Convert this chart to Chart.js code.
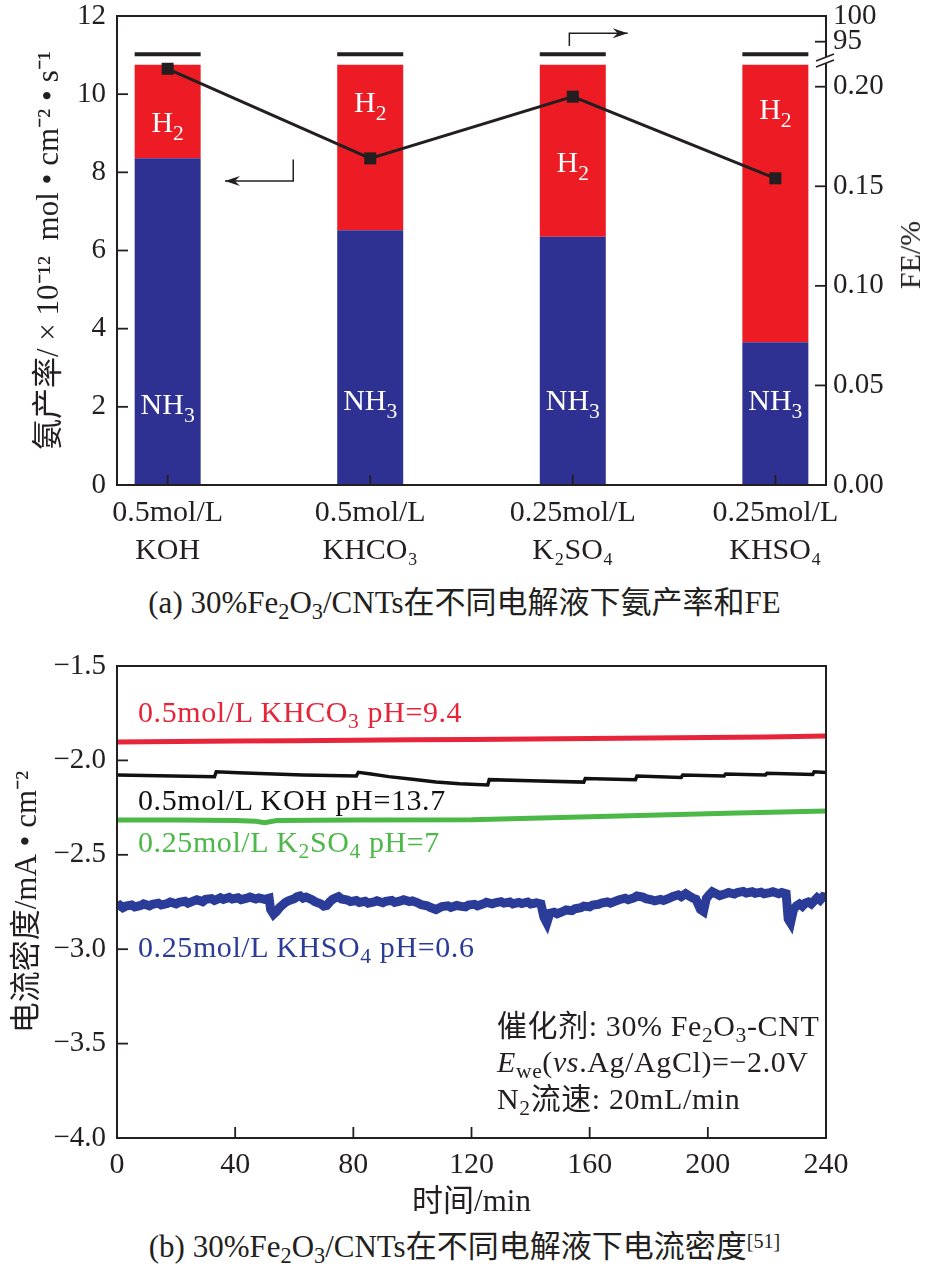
<!DOCTYPE html>
<html><head><meta charset="utf-8">
<script src="https://cdn.jsdelivr.net/npm/chart.js@4.4.1/dist/chart.umd.min.js"></script>
<style>
body{margin:0;background:#fff;width:929px;height:1275px;overflow:hidden;position:relative;font-family:'Liberation Serif','Noto Sans CJK SC',serif;color:#231f20}
#c1{position:absolute;left:0;top:0}
#c2{position:absolute;left:0;top:630px}
.t{position:absolute;white-space:nowrap;font-size:30px;letter-spacing:0.6px;line-height:1}
.cap{position:absolute;left:0;width:929px;text-align:center;white-space:nowrap;font-size:31px;line-height:1}
sub{font-size:0.72em;vertical-align:-0.28em;line-height:0}
sup{font-size:0.65em;vertical-align:0.45em;line-height:0}
#fe{position:absolute;left:910px;top:255px;transform:translate(-50%,-50%) rotate(-90deg);font-size:30px;line-height:1;white-space:nowrap}
</style></head>
<body>
<canvas id="c1" width="929" height="580"></canvas>
<canvas id="c2" width="929" height="590"></canvas>
<div id="fe">FE/%</div>
<div class="cap" style="top:587px">(a) 30%Fe<sub>2</sub>O<sub>3</sub>/CNTs在不同电解液下氨产率和FE</div>
<div class="t" style="left:138px;top:697px;color:#e6243a">0.5mol/L KHCO<sub>3</sub> pH=9.4</div>
<div class="t" style="left:138px;top:785px;color:#111">0.5mol/L KOH pH=13.7</div>
<div class="t" style="left:138px;top:827px;color:#4cb847">0.25mol/L K<sub>2</sub>SO<sub>4</sub> pH=7</div>
<div class="t" style="left:138px;top:932px;color:#2b3c98">0.25mol/L KHSO<sub>4</sub> pH=0.6</div>
<div class="t" style="left:497px;top:1011px">催化剂: 30% Fe<sub>2</sub>O<sub>3</sub>-CNT</div>
<div class="t" style="left:497px;top:1047px"><i>E</i><sub>we</sub>(<i>vs</i>.Ag/AgCl)=−2.0V</div>
<div class="t" style="left:497px;top:1084px">N<sub>2</sub>流速: 20mL/min</div>
<div class="cap" style="top:1231px">(b) 30%Fe<sub>2</sub>O<sub>3</sub>/CNTs在不同电解液下电流密度<sup>[51]</sup></div>
<script>
// ---------- data (a) ----------
const categories = [['0.5mol/L','KOH'],['0.5mol/L','KHCO₃'],['0.25mol/L','K₂SO₄'],['0.25mol/L','KHSO₄']];
const nh3Rate = [8.36, 6.52, 6.35, 3.65];
const h2Rate  = [2.39, 4.23, 4.40, 7.10];
const capRange = [10.97, 11.07];
const feValues = [0.209, 0.164, 0.195, 0.154];
const rateTicks = [0, 2, 4, 6, 8, 10, 12];
const feTickValues = [0, 0.05, 0.10, 0.15, 0.20, 0.2226, 0.2355];
const feTickLabels = ['0.00', '0.05', '0.10', '0.15', '0.20', '95', '100'];

// ---------- data (b) ----------
const timeTicks = [0, 40, 80, 120, 160, 200, 240];
const currentTicks = [-4.0, -3.5, -3.0, -2.5, -2.0, -1.5];
const khco3Time = [0, 20, 40, 60, 80, 100, 120, 140, 160, 180, 200, 220, 240];
const khco3Current = [-1.902, -1.900, -1.897, -1.896, -1.893, -1.891, -1.889, -1.887, -1.884, -1.882, -1.879, -1.876, -1.871];
const kohTime = [0, 33, 33.6, 41, 63, 81, 81.7, 86, 92, 100, 108, 116, 125.5, 126, 140, 158, 158.5, 175.5, 176, 191, 191.5, 205.5, 206, 219.5, 220, 235.5, 236, 240];
const kohCurrent = [-2.077, -2.087, -2.060, -2.066, -2.077, -2.083, -2.063, -2.072, -2.086, -2.100, -2.114, -2.124, -2.130, -2.102, -2.108, -2.115, -2.096, -2.102, -2.083, -2.090, -2.077, -2.083, -2.072, -2.077, -2.068, -2.075, -2.060, -2.064];
const k2so4Time = [0, 20, 40, 47, 50, 54, 80, 120, 150, 180, 210, 240];
const k2so4Current = [-2.316, -2.316, -2.318, -2.322, -2.330, -2.318, -2.316, -2.314, -2.302, -2.290, -2.279, -2.268];
const khso4Time = [0,1,2,3,5,6,8,9,11,12,14,15,17,18,20,21,23,24,26,27,29,30,32,33,35,36,38,39,41,42,44,45,47,48,50,51.5,52,53,54,55,56,57,58,60,61,62,63,64,66,67,69,70,71,72,73,74,75,76,78,79,81,82,84,85,87,88,90,91,93,94,96,97,99,100,102,103,105,106,108,109,110,112,113,115,116,118,119,121,122,124,125,127,128,130,131,133,134,136,137,139,140,142,143.5,144.5,145.5,146.5,148,149,151,152,154,155,157,158,160,161,163,164,166,167,169,170,172,173,175,176,178,179,181,182,184,185,187,188,190,191,192.5,193.5,195,196,197.5,198.5,199.5,200.5,201.5,203,204,206,207,209,210,212,213,215,216,218,219,221,222,224,225,226.5,227.2,228,229,230,231,232,233,234,235,236,237,238,239,240];
const khso4Current = [-2.776,-2.768,-2.780,-2.772,-2.766,-2.776,-2.768,-2.760,-2.770,-2.762,-2.756,-2.766,-2.758,-2.750,-2.760,-2.752,-2.746,-2.756,-2.744,-2.738,-2.748,-2.736,-2.732,-2.742,-2.728,-2.736,-2.726,-2.734,-2.728,-2.738,-2.730,-2.724,-2.734,-2.728,-2.736,-2.730,-2.790,-2.815,-2.800,-2.780,-2.766,-2.752,-2.744,-2.732,-2.722,-2.718,-2.730,-2.724,-2.738,-2.748,-2.760,-2.772,-2.768,-2.750,-2.736,-2.728,-2.722,-2.734,-2.740,-2.748,-2.742,-2.752,-2.746,-2.756,-2.750,-2.744,-2.754,-2.746,-2.742,-2.752,-2.744,-2.738,-2.748,-2.744,-2.756,-2.764,-2.770,-2.778,-2.790,-2.782,-2.774,-2.770,-2.778,-2.768,-2.772,-2.776,-2.766,-2.762,-2.770,-2.760,-2.752,-2.760,-2.754,-2.748,-2.756,-2.750,-2.760,-2.752,-2.758,-2.750,-2.760,-2.754,-2.760,-2.830,-2.860,-2.810,-2.804,-2.812,-2.800,-2.792,-2.796,-2.786,-2.780,-2.772,-2.776,-2.766,-2.762,-2.756,-2.750,-2.756,-2.744,-2.738,-2.730,-2.738,-2.728,-2.718,-2.724,-2.732,-2.738,-2.744,-2.736,-2.742,-2.730,-2.722,-2.712,-2.722,-2.706,-2.716,-2.730,-2.736,-2.790,-2.800,-2.730,-2.712,-2.696,-2.708,-2.716,-2.706,-2.700,-2.708,-2.700,-2.694,-2.702,-2.696,-2.704,-2.698,-2.706,-2.700,-2.696,-2.706,-2.700,-2.706,-2.840,-2.860,-2.790,-2.770,-2.760,-2.772,-2.756,-2.750,-2.760,-2.744,-2.728,-2.740,-2.722,-2.726];

const F = "'Liberation Serif','Noto Sans CJK SC',serif";
const INK = '#231f20';
const pts = (xs, ys) => xs.map((x, i) => ({x: x, y: ys[i]}));

function drawSub(ctx, parts, cx, cy, size) {
  ctx.save();
  ctx.textAlign = 'left';
  ctx.textBaseline = 'alphabetic';
  const w = parts.map(p => { ctx.font = (p[1] ? size * 0.72 : size) + 'px ' + F; return ctx.measureText(p[0]).width; });
  let x = cx - w.reduce((a, b) => a + b, 0) / 2;
  const base = cy + size * 0.33;
  parts.forEach((p, i) => {
    ctx.font = (p[1] ? size * 0.72 : size) + 'px ' + F;
    ctx.fillText(p[0], x, p[1] ? base + size * 0.27 : base);
    x += w[i];
  });
  ctx.restore();
}

const framePlugin = {
  id: 'frame',
  afterDatasetsDraw(chart, args, opts) {
    const {ctx, chartArea: a} = chart;
    ctx.save();
    ctx.strokeStyle = INK;
    ctx.lineWidth = 2;
    ctx.strokeRect(a.left, a.top, a.right - a.left, a.bottom - a.top);
    ctx.lineWidth = 1.8;
    (opts.ticks || []).forEach(t => {
      const s = chart.scales[t.scale];
      t.values.forEach(v => {
        const p = s.getPixelForValue(v);
        ctx.beginPath();
        if (t.side === 'bottom') { ctx.moveTo(p, a.bottom); ctx.lineTo(p, a.bottom - t.len); }
        else if (t.side === 'left') { ctx.moveTo(a.left, p); ctx.lineTo(a.left + t.len, p); }
        else { ctx.moveTo(a.right, p); ctx.lineTo(a.right - t.len, p); }
        ctx.stroke();
      });
    });
    (opts.labels || []).forEach(l => {
      ctx.fillStyle = '#ffffff';
      drawSub(ctx, l.parts, chart.scales.x.getPixelForValue(l.x), chart.scales.y.getPixelForValue(l.y), 30);
    });
    (opts.arrows || []).forEach(ar => {
      const P = ar.map(q => [chart.scales.x.getPixelForValue(q[0]), chart.scales.y.getPixelForValue(q[1])]);
      ctx.strokeStyle = INK; ctx.lineWidth = 1.5;
      ctx.beginPath(); ctx.moveTo(P[0][0], P[0][1]);
      for (let i = 1; i < P.length; i++) ctx.lineTo(P[i][0], P[i][1]);
      ctx.stroke();
      const e = P[P.length - 1], s = P[P.length - 2];
      const ang = Math.atan2(e[1] - s[1], e[0] - s[0]);
      ctx.fillStyle = INK;
      ctx.beginPath();
      ctx.moveTo(e[0], e[1]);
      ctx.lineTo(e[0] - 15 * Math.cos(ang) + 5 * Math.sin(ang), e[1] - 15 * Math.sin(ang) - 5 * Math.cos(ang));
      ctx.lineTo(e[0] - 10 * Math.cos(ang), e[1] - 10 * Math.sin(ang));
      ctx.lineTo(e[0] - 15 * Math.cos(ang) - 5 * Math.sin(ang), e[1] - 15 * Math.sin(ang) + 5 * Math.cos(ang));
      ctx.closePath(); ctx.fill();
    });
    if (opts.breakAt !== undefined) {
      const py = chart.scales.y1.getPixelForValue(opts.breakAt);
      ctx.strokeStyle = '#ffffff'; ctx.lineWidth = 5;
      ctx.beginPath(); ctx.moveTo(a.right, py - 3); ctx.lineTo(a.right, py + 3); ctx.stroke();
      ctx.strokeStyle = INK; ctx.lineWidth = 1.6;
      [-3, 3].forEach(d => {
        ctx.beginPath(); ctx.moveTo(a.right - 10, py + d + 4); ctx.lineTo(a.right + 8, py + d - 3); ctx.stroke();
      });
    }
    ctx.restore();
  }
};

const tickFont = {family: F, size: 29, lineHeight: 0.3};

// ---------- chart (a) ----------
new Chart(document.getElementById('c1'), {
  type: 'bar',
  data: {
    datasets: [
      {label: 'NH3', data: pts([0,1,2,3], nh3Rate), backgroundColor: '#2e3192', stack: 'main', grouped: false, maxBarThickness: 66, order: 1, yAxisID: 'y'},
      {label: 'H2', data: pts([0,1,2,3], h2Rate), backgroundColor: '#ed1c24', stack: 'main', grouped: false, maxBarThickness: 66, order: 2, yAxisID: 'y'},
      {label: 'cap', data: [0,1,2,3].map(i => ({x: i, y: capRange})), backgroundColor: INK, stack: 'cap', grouped: false, maxBarThickness: 66, order: 3, yAxisID: 'y'},
      {type: 'line', label: 'FE', data: pts([0,1,2,3], feValues), yAxisID: 'y1', borderColor: INK, borderWidth: 3, pointStyle: 'rect', pointRadius: 8.5, pointBackgroundColor: INK, pointBorderColor: INK, pointBorderWidth: 0, order: 0}
    ]
  },
  options: {
    responsive: false, animation: false, events: [],
    layout: {padding: {top: 16, left: 0, right: 0, bottom: 0}},
    plugins: {legend: {display: false}, tooltip: {enabled: false},
      frame: {
        ticks: [{scale: 'x', side: 'bottom', len: 10, values: [0,1,2,3]},
                {scale: 'y', side: 'left', len: 11, values: [2,4,6,8,10]},
                {scale: 'y1', side: 'right', len: 11, values: [0.05,0.10,0.15,0.20,0.2226]}],
        labels: [{x:0, y:9.28, parts:[['H',0],['2',1]]}, {x:1, y:9.80, parts:[['H',0],['2',1]]},
                 {x:2, y:8.26, parts:[['H',0],['2',1]]}, {x:3, y:9.62, parts:[['H',0],['2',1]]},
                 {x:0, y:2.07, parts:[['NH',0],['3',1]]}, {x:1, y:2.17, parts:[['NH',0],['3',1]]},
                 {x:2, y:2.17, parts:[['NH',0],['3',1]]}, {x:3, y:2.17, parts:[['NH',0],['3',1]]}],
        arrows: [[[0.620, 8.33], [0.620, 7.78], [0.283, 7.78]], [[1.983, 11.23], [1.983, 11.56], [2.271, 11.56]]],
        breakAt: 0.2134
      }
    },
    scales: {
      x: {type: 'linear', min: -0.25, max: 3.25, offset: false,
        grid: {display: false, drawTicks: false}, border: {display: false},
        afterBuildTicks: s => { s.ticks = categories.map((c, i) => ({value: i})); },
        ticks: {callback: v => categories[v], font: {family: F, size: 30, lineHeight: 1.28}, color: INK, padding: 9, maxRotation: 0, autoSkip: false},
        afterFit: s => { s.height = 95; }
      },
      y: {position: 'left', stacked: true, min: 0, max: 12,
        grid: {display: false, drawTicks: false}, border: {display: false},
        afterBuildTicks: s => { s.ticks = rateTicks.map(v => ({value: v})); },
        ticks: {font: tickFont, color: INK, padding: 11},
        title: {display: true, text: '氨产率/ × 10⁻¹²  mol • cm⁻² • s⁻¹', font: {family: F, size: 31, lineHeight: 1.2}, color: INK, padding: {top: 31, bottom: 0}},
        afterFit: s => { s.width = 117; }
      },
      y1: {position: 'right', min: 0, max: 0.2355,
        grid: {display: false, drawTicks: false}, border: {display: false},
        afterBuildTicks: s => { s.ticks = feTickValues.map(v => ({value: v})); },
        ticks: {callback: (v, i) => feTickLabels[i], font: tickFont, color: INK, padding: 7, autoSkip: false},
        afterFit: s => { s.width = 103; }
      }
    }
  },
  plugins: [framePlugin]
});

// ---------- chart (b) ----------
new Chart(document.getElementById('c2'), {
  type: 'line',
  data: {
    datasets: [
      {label: 'KHCO3', data: pts(khco3Time, khco3Current), borderColor: '#e6243a', borderWidth: 5},
      {label: 'KOH', data: pts(kohTime, kohCurrent), borderColor: '#111111', borderWidth: 3.5},
      {label: 'K2SO4', data: pts(k2so4Time, k2so4Current), borderColor: '#4cb847', borderWidth: 5},
      {label: 'KHSO4', data: pts(khso4Time, khso4Current), borderColor: '#2b3c98', borderWidth: 9}
    ].map(d => Object.assign(d, {pointRadius: 0, tension: 0, fill: false}))
  },
  options: {
    responsive: false, animation: false, events: [],
    layout: {padding: {top: 36, left: 0, right: 103, bottom: 0}},
    plugins: {legend: {display: false}, tooltip: {enabled: false},
      frame: {
        ticks: [{scale: 'x', side: 'bottom', len: 11, values: [40, 80, 120, 160, 200]},
                {scale: 'y', side: 'left', len: 11, values: [-3.5, -3.0, -2.5, -2.0]}]
      }
    },
    scales: {
      x: {type: 'linear', min: 0, max: 240,
        grid: {display: false, drawTicks: false}, border: {display: false},
        afterBuildTicks: s => { s.ticks = timeTicks.map(v => ({value: v})); },
        ticks: {font: {family: F, size: 30, lineHeight: 1.2}, color: INK, padding: 9, maxRotation: 0, autoSkip: false},
        title: {display: true, text: '时间/min', font: {family: F, size: 31, lineHeight: 1.1}, color: INK, padding: {top: 0, bottom: 0}},
        afterFit: s => { s.height = 82; }
      },
      y: {min: -4.0, max: -1.5,
        grid: {display: false, drawTicks: false}, border: {display: false},
        afterBuildTicks: s => { s.ticks = currentTicks.map(v => ({value: v})); },
        ticks: {callback: v => (v < 0 ? '\u2212' : '') + Math.abs(v).toFixed(1), font: tickFont, color: INK, padding: 11, autoSkip: false},
        title: {display: true, text: '电流密度/mA • cm⁻²', font: {family: F, size: 31, lineHeight: 1.2}, color: INK, padding: {top: 9, bottom: 0}},
        afterFit: s => { s.width = 117; }
      }
    }
  },
  plugins: [framePlugin]
});
</script>
</body></html>
